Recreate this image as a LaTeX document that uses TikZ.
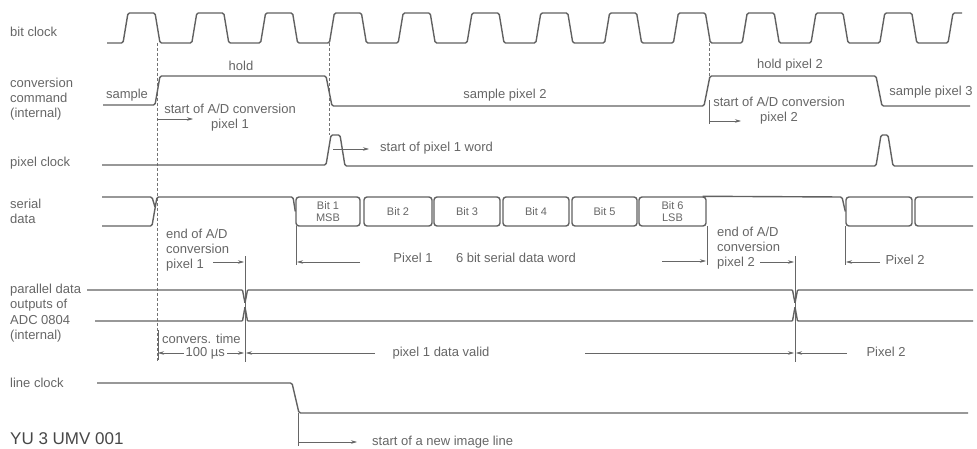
\documentclass[tikz,border=0pt]{standalone}
\usepackage{fontspec}
\setmainfont{Liberation Sans}
\usetikzlibrary{arrows.meta}

\begin{document}
\begin{tikzpicture}[x=1pt,y=-1pt,>={Stealth[length=6pt,width=3.5pt]},
  signal/.style={line width=1.4pt, black!62, rounded corners=1.5pt},
  note/.style={line width=.6pt, black!60},
  guide/.style={line width=.6pt, black!55, dash pattern=on 3pt off 2pt},
  txt/.style={text=black!60, font=\fontsize{13}{15}\selectfont, inner sep=0pt},
  rowlabel/.style={txt, anchor=west, align=left},
  bitbox/.style={draw, line width=1.4pt, black!62, rounded corners=3pt,
    minimum height=29pt, inner sep=0pt, text=black!60,
    font=\fontsize{11}{12}\selectfont, align=center}]
\useasboundingbox (0,0) rectangle (977,449);

% row labels
\node[rowlabel] (lbit) at (10,32) {bit clock};
\node[rowlabel] (lconv) at (10,99) {conversion\\command\\(internal)};
\node[rowlabel] (lpix) at (10,163) {pixel clock};
\node[rowlabel] (lser) at (10,211) {serial\\data};
\node[rowlabel,font=\fontsize{13}{15.5}\selectfont] (lpar) at (10,313) {parallel data\\outputs of\\ADC 0804\\(internal)};
\node[rowlabel] (lline) at (10,383) {line clock};
\node[rowlabel,text=black!72,font=\fontsize{17}{17}\selectfont] (lid) at (10,439) {YU 3 UMV 001};

% time marks
\coordinate (t1) at (157,43);
\coordinate (t2) at (329,43);
\coordinate (t3) at (709,43);
\draw[guide] (t1) -- (157,362);
\draw[guide] (t2) -- (329,135);
\draw[guide] (t3) -- (709,76);

% bit clock
\draw[signal] (107,43) \foreach \k in {0,...,11} {-- ({123+68.8*\k},43) -- ({128+68.8*\k},13)
  -- ({155+68.8*\k},13) -- ({160+68.8*\k},43)} -- (948,43) -- (953,13) -- (962,13);

% conversion command
\draw[signal] (103,105) -- (155,105) -- (160,76) -- (326,76) -- (332,106) -- (704,106)
  -- (710,76) -- (876,76) -- (882,106) -- (970,106);
\node[txt] (smp) at (127,95) {sample};
\node[txt] (hld) at (241,66) {hold};
\node[txt] (smp2) at (505,95) {sample pixel 2};
\node[txt] (hld2) at (790,65) {hold pixel 2};
\node[txt] (smp3) at (931,92) {sample pixel 3};
\node[txt,align=center] (soc1) at (230,118) {start of A/D conversion\\pixel 1};
\node[txt,align=center] (soc2) at (779,111) {start of A/D conversion\\pixel 2};
\draw[note,->] (157,119) -- (193,119);
\draw[note] (709,100) -- (709,124);
\draw[note,->] (709,121) -- (741,121);

% pixel clock
\draw[signal] (102,165) -- (326,165) -- (331,135) -- (340,135) -- (345,166) -- (876,166)
  -- (881,135) -- (888,135) -- (893,166) -- (973,166);
\draw[note,->] (333,149) -- (369,149);
\node[txt,anchor=west] (spw) at (380,148) {start of pixel 1 word};

% serial data
\node[bitbox,minimum width=64pt] (b1) at (328,211.5) {Bit 1\\MSB};
\node[bitbox,minimum width=68pt] (b2) at (398,211.5) {Bit 2};
\node[bitbox,minimum width=66pt] (b3) at (467,211.5) {Bit 3};
\node[bitbox,minimum width=66pt] (b4) at (536,211.5) {Bit 4};
\node[bitbox,minimum width=65pt] (b5) at (604.5,211.5) {Bit 5};
\node[bitbox,minimum width=67pt] (b6) at (672.5,211.5) {Bit 6\\LSB};
\node[bitbox,minimum width=66pt] (b7) at (879,211.5) {};
\draw[signal] (102,197) -- (152,197) -- (155,207);
\draw[signal] (102,226) -- (152,226) -- (157,197) -- (293,197) -- (b1.west);
\draw[signal] ([xshift=-4pt]b6.north east) -- (842,197) -- (b7.west);
\draw[signal,rounded corners=3pt] (973,197) -- (915,197) -- (915,226) -- (973,226);
\draw[note] (296,226) -- (296,265);
\draw[note,->] (360,262) -- (297,262);
\node[txt] (px1) at (413,258) {Pixel 1};
\node[txt] (word) at (516,258) {6 bit serial data word};
\draw[note] (707,226) -- (707,265);
\draw[note,->] (662,261) -- (706,261);
\draw[note] (845,226) -- (845,265);
\draw[note,->] (880,262) -- (846,262);
\node[txt] (px2) at (905,260) {Pixel 2};

% end of conversion
\node[txt,anchor=west,align=left] (eoc1) at (166,250) {end of A/D\\conversion\\pixel 1};
\draw[note,->] (213,262) -- (244,262);
\draw[note] (245,256) -- (245,362);
\node[txt,anchor=west,align=left] (eoc2) at (717,248) {end of A/D\\conversion\\pixel 2};
\draw[note,->] (760,262) -- (794,262);
\draw[note] (795,256) -- (795,362);

% parallel data outputs
\draw[signal,rounded corners=.8pt] (87,290) -- (242.5,290) -- (245,303) -- (247.5,290) -- (792.5,290)
  -- (795,303) -- (797.5,290) -- (973,290);
\draw[signal,rounded corners=.8pt] (95,321) -- (242.5,321) -- (245,307) -- (247.5,321) -- (792.5,321)
  -- (795,307) -- (797.5,321) -- (973,321);

% conversion time and valid data
\draw[note] (158,330) -- (158,360);
\node[txt,anchor=west] (ctime) at (162,339) {convers. time};
\draw[note,<->] (158,353) -- (244,353) node[txt,pos=.55,fill=white,inner xsep=2pt] (cval) {100 µs};
\draw[note,<-] (246,353) -- (375,353);
\node[txt] (valid) at (441,353) {pixel 1 data valid};
\draw[note,->] (585,353) -- (794,353);
\draw[note,<-] (796,353) -- (847,353);
\node[txt] (px2b) at (886,352) {Pixel 2};

% line clock
\draw[signal] (97,383) -- (292,383) -- (299,413) -- (968,413);
\draw[note] (298,413) -- (298,446);
\draw[note,->] (298,442) -- (357,442);
\node[txt,anchor=west] (newl) at (372,442) {start of a new image line};

\end{tikzpicture}
\end{document}
